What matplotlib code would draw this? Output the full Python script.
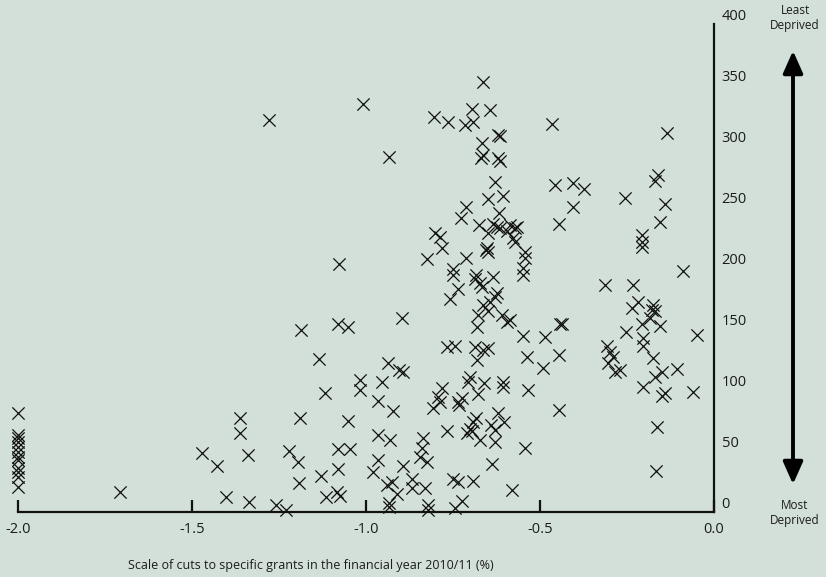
import matplotlib
matplotlib.use("Agg")
import matplotlib.pyplot as plt
from matplotlib.patches import FancyArrowPatch

# Scale of cuts to specific grants, 2010/11 (%) for each local authority
cuts_pct = [
    # -2.0 column and far left
    -2.0, -2.0, -2.0, -2.0, -2.0, -2.0, -2.0, -2.0, -2.0, -2.0, -2.0, -2.0,
    -1.707, -1.471, -1.428, -1.402, -1.362, -1.362,
    # -1.35 .. -0.9
    -1.339, -1.336, -1.259, -1.230, -1.221, -1.195, -1.193, -1.190, -1.129,
    -1.118, -1.115, -1.083, -1.075, -1.080, -1.046, -1.080, -1.052, -1.017,
    -1.017, -0.980, -0.966, -0.966, -0.966, -0.954, -0.940, -0.934, -0.934,
    -0.931, -0.925, -0.922, -0.911,
    # -0.9 .. -0.44, lower half
    -0.894, -0.894, -0.868, -0.868, -0.845, -0.839, -0.836, -0.830, -0.825,
    -0.822, -0.822, -0.807, -0.793, -0.787, -0.782, -0.767, -0.767, -0.750,
    -0.744, -0.744, -0.736, -0.724, -0.733, -0.736, -0.724, -0.707, -0.701,
    -0.710, -0.701, -0.695, -0.693, -0.693, -0.687, -0.684, -0.681, -0.678,
    -0.672, -0.664, -0.661, -0.649, -0.641, -0.638, -0.629, -0.629, -0.621,
    -0.606, -0.606, -0.603, -0.580, -0.543, -0.537, -0.534, -0.491, -0.445,
    -0.445,
    # -0.9 .. -0.44, middle band
    -0.629, -0.457, -0.405, -0.606, -0.649, -0.405, -0.713, -0.727, -0.618,
    -0.675, -0.635, -0.624, -0.615, -0.649, -0.586, -0.572, -0.595, -0.566,
    -0.578, -0.572, -0.445, -0.802, -0.787, -0.782, -0.655, -0.649, -0.652,
    -0.543, -0.543, -0.549, -0.549, -0.825, -0.713, -0.750, -0.750, -0.684,
    -0.687, -0.672, -0.667, -0.635, -0.736, -0.759, -0.624, -0.629, -0.644,
    -0.664, -0.649, -0.678, -0.681, -0.609, -0.586, -0.595, -0.897, -0.549,
    -0.486, -0.443, -0.437,
    # -1.2 .. -0.9, middle band
    -1.078, -1.187, -1.080, -1.052, -1.135, -0.937, -0.905,
    # -0.32 .. -0.04
    -0.207, -0.089, -0.313, -0.233, -0.218, -0.236, -0.175, -0.178, -0.170,
    -0.184, -0.207, -0.155, -0.253, -0.049, -0.204, -0.204, -0.307, -0.299,
    -0.290, -0.305, -0.284, -0.270, -0.175, -0.106, -0.149, -0.170,
    -0.204, -0.149, -0.141, -0.060, -0.164, -0.167,
    # upper band
    -1.279, -1.009, -0.934,
    -0.664, -0.695, -0.693, -0.716, -0.764, -0.805, -0.644, -0.621, -0.615,
    -0.667, -0.664, -0.670, -0.621, -0.615, -0.466, -0.135, -0.161, -0.170,
    -0.374, -0.256, -0.141, -0.155, -0.207, -0.207,
]

# Deprivation rank of the same authorities (low = most deprived)
deprivation_rank = [
    74, 56, 53, 50, 46, 42, 38, 35, 29, 25, 21, 13,
    9, 41, 30, 5, 70, 57,
    39, 1, -2, -6, 43, 34, 16, 70, 22,
    90, 5, 9, 6, 44, 44, 28, 67, 101,
    93, 25, 84, 56, 35, 99, 15, 0, -3,
    52, 17, 75, 7,
    107, 30, 20, 12, 38, 45, 53, 12, 34,
    -2, -6, 78, 87, 83, 94, 128, 59, 20,
    129, -4, 83, 86, 80, 17, 2, 99, 103,
    57, 61, 59, 66, 18, 128, 70, 117, 89,
    52, 125, 98, 127, 64, 32, 60, 50, 74,
    99, 95, 66, 11, 45, 120, 93, 111, 121,
    76,
    263, 261, 262, 252, 249, 243, 243, 234, 238,
    228, 229, 226, 225, 221, 228, 225, 223, 226,
    217, 214, 229, 221, 218, 209, 207, 206, 209,
    206, 201, 193, 187, 200, 201, 192, 187, 187,
    184, 180, 177, 185, 175, 167, 172, 169, 165,
    162, 157, 154, 144, 154, 150, 148, 152, 137,
    136, 147, 147,
    196, 142, 147, 144, 118, 115, 109,
    210, 190, 179, 179, 165, 160, 162, 158, 157,
    152, 147, 145, 140, 138, 135, 129, 129, 124,
    120, 115, 107, 109, 119, 110, 107, 103,
    95, 88, 90, 91, 62, 26,
    314, 327, 284,
    345, 323, 312, 310, 312, 316, 322, 302, 301,
    295, 285, 283, 283, 280, 311, 303, 269, 264,
    257, 250, 245, 230, 220, 214,
]

x_ticks = [-2.0, -1.5, -1.0, -0.5, 0.0]
y_ticks = [0, 50, 100, 150, 200, 250, 300, 350, 400]
x_label = "Scale of cuts to specific grants in the financial year 2010/11 (%)"

BG = "#d2e0d9"
INK = "#111111"
FONT = "Open Sans"

W, H = 826, 577
fig = plt.figure(figsize=(W / 100, H / 100), dpi=100, facecolor=BG)

# axes box in pixels: x -2..0 -> 18..714, y -7.5..402 -> 512..13
left_px, right_px = 18, 714
y_lo, y_hi = -7.5, 402
px_per_unit = 1.22
bottom_px = 503 + (-y_lo) * px_per_unit
top_px = 503 - y_hi * px_per_unit
ax = fig.add_axes([left_px / W, 1 - bottom_px / H,
                   (right_px - left_px) / W, (bottom_px - top_px) / H])
ax.set_facecolor(BG)

ax.scatter(cuts_pct, deprivation_rank, marker="x", s=78, linewidths=0.9,
           color=INK, clip_on=False, zorder=3)

ax.set_xlim(-2.0, 0.0)
ax.set_ylim(y_lo, y_hi)

for side in ("left", "top"):
    ax.spines[side].set_visible(False)
for side in ("bottom", "right"):
    ax.spines[side].set_linewidth(1.6)
    ax.spines[side].set_color(INK)
ax.spines["right"].set_bounds(y_lo, 393)

ax.set_xticks(x_ticks)
ax.set_xticklabels([f"{v:.1f}" for v in x_ticks])
ax.tick_params(axis="x", direction="in", length=8.5, width=1.6, color=INK,
               pad=7, labelsize=10.5, labelcolor="#1c1c1c")
ax.yaxis.tick_right()
ax.set_yticks(y_ticks)
ax.set_yticklabels([str(v) for v in y_ticks])
ax.tick_params(axis="y", length=0, pad=5.5, labelsize=10.5, labelcolor="#1c1c1c")
for lab in ax.get_xticklabels() + ax.get_yticklabels():
    lab.set_fontfamily(FONT)
for lab in ax.get_yticklabels():
    lab.set_horizontalalignment("left")

fig.text(311 / W, 1 - 565 / H, x_label, ha="center", va="center",
         fontsize=9, color="#1c1c1c", family=FONT)

# deprivation direction arrow
arrow_x = 793 / W
arrow = FancyArrowPatch((arrow_x, 1 - 487 / H), (arrow_x, 1 - 48 / H),
                        transform=fig.transFigure,
                        arrowstyle="<|-|>,head_length=0.9,head_width=0.4",
                        mutation_scale=15, lw=2.8, color="black")
fig.patches.append(arrow)
fig.text(795 / W, 1 - 18 / H, "Least\nDeprived", ha="center", va="center",
         fontsize=8.5, color="#1c1c1c", family=FONT, linespacing=1.25)
fig.text(795 / W, 1 - 513 / H, "Most\nDeprived", ha="center", va="center",
         fontsize=8.5, color="#1c1c1c", family=FONT, linespacing=1.25)

fig.savefig("out.png", dpi=100, facecolor=BG)
